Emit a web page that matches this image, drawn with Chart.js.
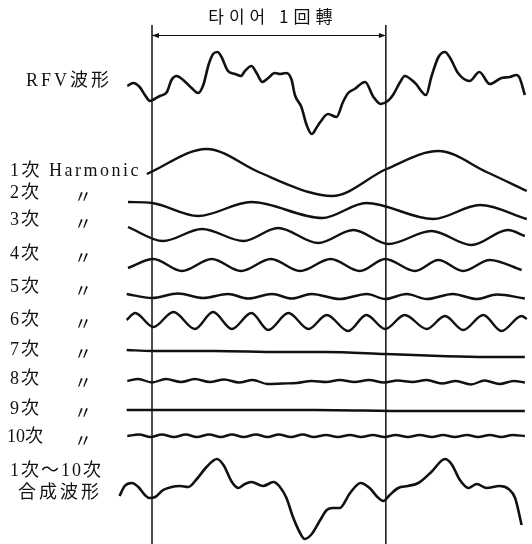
<!DOCTYPE html>
<html lang="ko">
<head>
<meta charset="UTF-8">
<title>RFV 波形 分析</title>
<script src="https://cdn.jsdelivr.net/npm/chart.js"></script>
<style>
  html, body { margin: 0; padding: 0; background: #fff; }
  #wrap { width: 532px; height: 544px; }
</style>
</head>
<body>
<div id="wrap"><canvas id="rfvChart" width="532" height="544"></canvas></div>
<script>
// x = 타이어 회전각 (deg), y = 각 행 기준선에서의 진폭 (위쪽 +)
const rfvWave = [[-38,9],[-29,12],[-19,8],[-11,0],[-3,-6],[4,-4],[12,-1],[23,3],[30,15],[38,19],[48,15],[61,7],[71,2],[79,10],[87,30],[94,41],[101,43],[107,38],[117,24],[128,21],[137,19],[143,24],[153,29],[161,22],[170,13],[179,17],[189,22],[197,21],[207,22],[215,15],[220,0],[230,-12],[238,-30],[246,-39],[253,-33],[259,-27],[271,-19],[284,-22],[294,-7],[302,2],[312,6],[328,13],[341,-2],[352,-9],[363,-6],[371,0],[382,13],[389,19],[405,12],[422,0],[430,18],[441,38],[451,43],[459,37],[471,22],[489,14],[504,23],[520,11],[538,17],[551,18],[561,20],[566,17],[574,0]];
const harm1 = [[-8,-2],[84,23],[164,0],[241,-20],[277,-24],[361,3],[441,21],[515,0],[577,-19]];
const harm2 = [[-37,8],[0,7],[71,-6],[153,8],[262,-8],[330,7],[433,-9],[505,5],[577,-9]];
const harm3 = [[-37,9],[17,-5],[77,7],[141,-5],[194,8],[256,-7],[310,6],[364,-8],[430,5],[492,-9],[548,6],[574,0]];
const harm4 = [[-37,-3],[2,6],[46,-6],[92,6],[137,-6],[183,6],[228,-6],[275,6],[320,-6],[359,6],[405,-6],[441,5],[479,-6],[520,5],[569,-5]];
const harm5 = [[-39,2],[0,-2],[40,2.5],[79,-2],[117,2],[148,-2.5],[185,2],[215,-2.5],[246,2],[289,-3],[331,2],[359,-3],[392,2],[423,-3],[463,2],[500,-3],[531,1.5],[574,-2.5]];
const harm6 = [[-39,1],[-26,8],[2,-6],[33,9],[66,-8],[94,9],[123,-8],[153,8],[179,-9],[210,8],[241,-8],[269,6],[302,-10],[330,6],[359,-8],[389,6],[423,-8],[451,5],[479,-9],[510,6],[538,-10],[569,5],[577,2]];
const harm7 = [[-39,1],[0,0],[97,0],[197,-1],[266,-1],[359,-3],[443,-5],[515,-6],[574,-6]];
const harm8 = [[-38,0],[-21,2],[0,-1.5],[21,2],[45,-1],[66,2],[89,-1],[111,1.5],[134,-1.5],[155,1],[178,-3],[201,-2.5],[223,-2],[246,0],[268,-1],[289,1],[312,-1],[334,1],[357,-1.5],[378,0.5],[401,-1],[423,1],[446,-2.5],[468,0],[491,-3.5],[512,0.5],[535,-3],[557,0],[574,-1.5]];
const harm9 = [[-39,0],[100,0],[250,0],[400,-1],[574,-1]];
const harm10 = [[-38,0],[-20,1.5],[-2,-1],[15,1.5],[34,-1],[52,1.5],[69,-1],[88,1.5],[106,-1],[123,1.5],[141,-1],[160,1.5],[178,-1],[195,1.5],[214,-1],[232,1.5],[249,-1],[268,1],[286,-1],[305,1],[322,-1],[340,1],[358,-1],[375,1],[394,-1],[412,1],[431,-1],[448,1],[466,-1],[485,1],[502,-1],[520,1],[538,-1],[555,1],[574,0]];
const synthWave = [[-50,-6],[-42,4],[-31,7],[-21,3],[-11,-5],[-4,-8],[5,-7],[17,0],[30,3],[43,4],[56,3],[69,11],[84,23],[100,31],[110,25],[123,8],[133,2],[143,6],[153,8],[171,4],[187,8],[197,3],[207,-8],[217,-27],[228,-43],[235,-49],[246,-44],[259,-30],[269,-20],[278,-18],[289,-18],[305,-3],[321,7],[335,2],[347,-7],[356,-11],[366,-5],[379,2],[394,4],[410,7],[430,18],[451,31],[461,26],[474,10],[487,2],[500,6],[515,2],[535,4],[549,1],[559,-8],[569,-35]];

const rowNames = ['RFV波形', '1次 Harmonic', '2次', '3次', '4次', '5次', '6次', '7次', '8次', '9次', '10次', '1次～10次', '合成波形'];
const revMarks = [0, 360];
const titleText = '타이어 1回轉';

// 레이아웃 (y: 위에서부터)
const rowBase = [95, 172, 210, 236, 265, 296, 321, 351, 381, 410, 436, 490];
const labelY = [81, 171, 193, 220, 254, 287, 320, 350, 379, 409, 437, 471, 493];

const waves = [rfvWave, harm1, harm2, harm3, harm4, harm5, harm6, harm7, harm8, harm9, harm10, synthWave];
const datasets = waves.map((w, i) => ({
    data: w.map(p => ({ x: p[0], y: rowBase[i] - p[1] })),
    borderColor: '#111',
    borderWidth: (i === 0 || i === 11) ? 2.6 : 2.4,
    pointRadius: 0,
    cubicInterpolationMode: 'monotone',
    fill: false,
    clip: false
}));

const serif = '"Liberation Serif", "Noto Sans CJK JP", serif';

const overlay = {
    id: 'overlay',
    beforeDatasetsDraw(chart) {
        const ctx = chart.ctx, xs = chart.scales.x, ys = chart.scales.y;
        const top = ys.getPixelForValue(25), bottom = chart.chartArea.bottom;
        const arrowY = ys.getPixelForValue(35.5);
        const x0 = xs.getPixelForValue(revMarks[0]), x1 = xs.getPixelForValue(revMarks[1]);
        ctx.save();
        ctx.strokeStyle = '#111';
        ctx.fillStyle = '#111';
        ctx.lineWidth = 1.5;
        revMarks.forEach(m => {
            const x = xs.getPixelForValue(m);
            ctx.beginPath();
            ctx.moveTo(x, top);
            ctx.lineTo(x, bottom);
            ctx.stroke();
        });
        // 1회전 화살표
        ctx.lineWidth = 1.1;
        ctx.beginPath();
        ctx.moveTo(x0, arrowY);
        ctx.lineTo(x1, arrowY);
        ctx.stroke();
        [[x0, 1], [x1, -1]].forEach(([x, d]) => {
            ctx.beginPath();
            ctx.moveTo(x, arrowY);
            ctx.lineTo(x + d * 7, arrowY - 2.5);
            ctx.lineTo(x + d * 7, arrowY + 2.5);
            ctx.closePath();
            ctx.fill();
        });
        // 제목
        ctx.textAlign = 'center';
        ctx.textBaseline = 'middle';
        ctx.font = '17px "Noto Sans CJK KR", sans-serif';
        ctx.letterSpacing = '5px';
        ctx.fillText(titleText, (x0 + x1) / 2 + 4, ys.getPixelForValue(17));

        // 행 이름
        ctx.textAlign = 'left';
        const big = '18px ' + serif;
        ctx.font = big;
        ctx.letterSpacing = '3px';
        ctx.fillText(rowNames[0], 26, ys.getPixelForValue(labelY[0]));
        ctx.letterSpacing = '2.5px';
        ctx.fillText(rowNames[1], 10, ys.getPixelForValue(labelY[1]));
        ctx.letterSpacing = '1px';
        for (let i = 2; i <= 10; i++) {
            const y = ys.getPixelForValue(labelY[i]);
            ctx.font = big;
            ctx.letterSpacing = i === 10 ? '0px' : '2px';
            ctx.fillText(rowNames[i], i === 10 ? 7 : 10, y);
            ctx.letterSpacing = '0px';
            ctx.font = '18px "Noto Sans CJK JP", sans-serif';
            ctx.fillText('〃', 74, y + 3);
        }
        ctx.font = big;
        ctx.letterSpacing = '2px';
        ctx.fillText(rowNames[11], 10, ys.getPixelForValue(labelY[11]));
        ctx.letterSpacing = '3px';
        ctx.fillText(rowNames[12], 18, ys.getPixelForValue(labelY[12]));
        ctx.restore();
    }
};

new Chart(document.getElementById('rfvChart'), {
    type: 'line',
    data: { datasets: datasets },
    options: {
        responsive: false,
        animation: false,
        devicePixelRatio: 1,
        layout: { padding: 0 },
        plugins: { legend: { display: false }, tooltip: { enabled: false } },
        scales: {
            x: { type: 'linear', min: -234, max: 585, display: false },
            y: { type: 'linear', min: 0, max: 544, reverse: true, display: false }
        }
    },
    plugins: [overlay]
});
</script>
</body>
</html>
